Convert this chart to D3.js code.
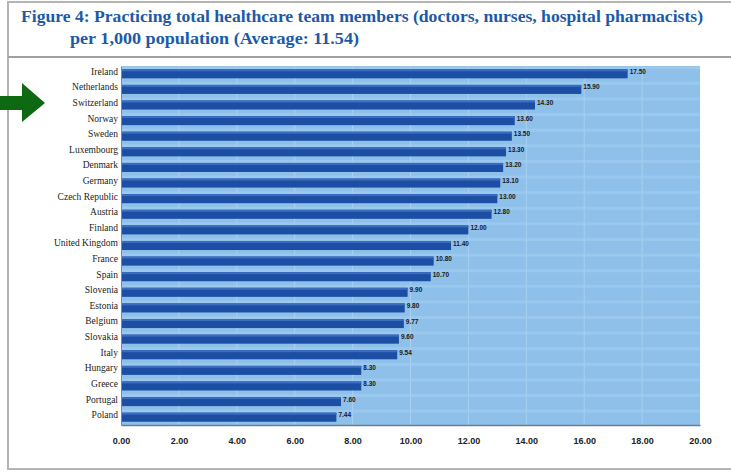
<!DOCTYPE html>
<html>
<head>
<meta charset="utf-8">
<script src="https://cdn.jsdelivr.net/npm/d3@7"></script>
<style>
  body { margin: 0; background: #fff; }
  svg { display: block; }
</style>
</head>
<body>
<script>
// chart data
var countries = ["Ireland", "Netherlands", "Switzerland", "Norway", "Sweden", "Luxembourg",
  "Denmark", "Germany", "Czech Republic", "Austria", "Finland", "United Kingdom", "France",
  "Spain", "Slovenia", "Estonia", "Belgium", "Slovakia", "Italy", "Hungary", "Greece",
  "Portugal", "Poland"];
var values = [17.5, 15.9, 14.3, 13.6, 13.5, 13.3, 13.2, 13.1, 13.0, 12.8, 12.0, 11.4, 10.8,
  10.7, 9.9, 9.8, 9.77, 9.6, 9.54, 8.3, 8.3, 7.6, 7.44];
var xTicks = [0, 2, 4, 6, 8, 10, 12, 14, 16, 18, 20];
var titleLines = ["Figure 4: Practicing total healthcare team members (doctors, nurses, hospital pharmacists)",
  "per 1,000 population  (Average: 11.54)"];

var width = 731;
var height = 472;
var margin = {top: 66, right: 31, bottom: 47, left: 121};

var svg = d3.select("body").append("svg")
    .attr("width", width)
    .attr("height", height);

// frame around the figure
svg.append("rect")
    .attr("x", 8).attr("y", 2)
    .attr("width", width).attr("height", 467)
    .attr("fill", "none")
    .attr("stroke", "#b4b4b4")
    .attr("stroke-width", 2);
svg.append("line")
    .attr("x1", 8).attr("x2", width)
    .attr("y1", 57).attr("y2", 57)
    .attr("stroke", "#a0a0a0")
    .attr("stroke-width", 2);

// title
svg.selectAll("text.title")
    .data(titleLines)
    .enter()
    .append("text")
    .attr("class", "title")
    .attr("x", function(d, i) { return i == 0 ? 21 : 70; })
    .attr("y", function(d, i) { return i == 0 ? 22 : 44; })
    .attr("font-family", "Liberation Serif, serif")
    .attr("font-weight", "bold")
    .attr("font-size", 16)
    .attr("fill", "#1b5aa8")
    .attr("textLength", function(d, i) { return i == 0 ? 682 : 289; })
    .attr("lengthAdjust", "spacingAndGlyphs")
    .text(function(d) { return d; });

var x = d3.scaleLinear()
    .domain([0, 20])
    .range([margin.left, width - margin.right]);

var y = d3.scaleBand()
    .domain(countries)
    .range([margin.top, height - margin.bottom])
    .paddingInner(0.42)
    .paddingOuter(0.21);

// plot background
svg.append("rect")
    .attr("x", x(0)).attr("y", margin.top)
    .attr("width", x(20) - x(0))
    .attr("height", height - margin.bottom - margin.top)
    .attr("fill", "#8ec0ea");

// vertical gridlines
svg.selectAll("line.grid")
    .data(xTicks.slice(1, -1))
    .enter()
    .append("line")
    .attr("class", "grid")
    .attr("x1", function(d) { return x(d); })
    .attr("x2", function(d) { return x(d); })
    .attr("y1", margin.top)
    .attr("y2", height - margin.bottom)
    .attr("stroke", "#a9d0f0")
    .attr("stroke-width", 1);

// light strip above each bar
svg.selectAll("rect.strip")
    .data(countries)
    .enter()
    .append("rect")
    .attr("class", "strip")
    .attr("x", x(0))
    .attr("y", function(d) { return y(d) - 3; })
    .attr("width", x(20) - x(0))
    .attr("height", 3)
    .attr("fill", "#a3cdf0")
    .attr("opacity", 0.6);

// bars
svg.selectAll("rect.bar")
    .data(values)
    .enter()
    .append("rect")
    .attr("class", "bar")
    .attr("x", x(0))
    .attr("y", function(d, i) { return y(countries[i]); })
    .attr("width", function(d) { return x(d) - x(0); })
    .attr("height", y.bandwidth())
    .attr("fill", "#1c4ea4");

svg.selectAll("rect.hl")
    .data(values)
    .enter()
    .append("rect")
    .attr("class", "hl")
    .attr("x", x(0))
    .attr("y", function(d, i) { return y(countries[i]); })
    .attr("width", function(d) { return x(d) - x(0); })
    .attr("height", 2)
    .attr("fill", "#3a6cc0");

// value labels
svg.selectAll("text.val")
    .data(values)
    .enter()
    .append("text")
    .attr("class", "val")
    .attr("x", function(d) { return x(d) + 2; })
    .attr("y", function(d, i) { return y(countries[i]) + y.bandwidth() / 2; })
    .attr("font-family", "Liberation Sans Narrow, Arial Narrow, sans-serif")
    .attr("font-size", 6.5)
    .attr("font-weight", "bold")
    .attr("fill", "#1a1a1a")
    .text(function(d) { return d.toFixed(2); });

// axes
var yAxis = d3.axisLeft(y).tickSize(0).tickPadding(3);
svg.append("g")
    .attr("transform", "translate(" + x(0) + ",0)")
    .call(yAxis)
    .call(function(g) { g.select(".domain").attr("stroke", "#7a8a9a"); })
    .selectAll("text")
    .attr("font-family", "Liberation Serif, serif")
    .attr("font-size", 9.5)
    .attr("fill", "#222")
    .attr("dy", "0.1em");

var xAxis = d3.axisBottom(x)
    .tickValues(xTicks)
    .tickSize(0)
    .tickPadding(13)
    .tickFormat(function(d) { return d.toFixed(2); });
svg.append("g")
    .attr("transform", "translate(0," + (height - margin.bottom) + ")")
    .call(xAxis)
    .call(function(g) { g.select(".domain").attr("stroke", "#6a7f96").attr("stroke-width", 1.5); })
    .selectAll("text")
    .attr("font-family", "Liberation Sans Narrow, Arial Narrow, sans-serif")
    .attr("font-weight", "bold")
    .attr("font-size", 9)
    .attr("fill", "#222");

// green arrow pointing at Switzerland
var arrow = d3.path();
arrow.moveTo(0, 96);
arrow.lineTo(22, 96);
arrow.lineTo(22, 83);
arrow.lineTo(45, 103);
arrow.lineTo(22, 122);
arrow.lineTo(22, 110);
arrow.lineTo(0, 110);
arrow.closePath();
svg.append("path")
    .attr("d", arrow.toString())
    .attr("fill", "#0e6a12");
</script>
</body>
</html>
